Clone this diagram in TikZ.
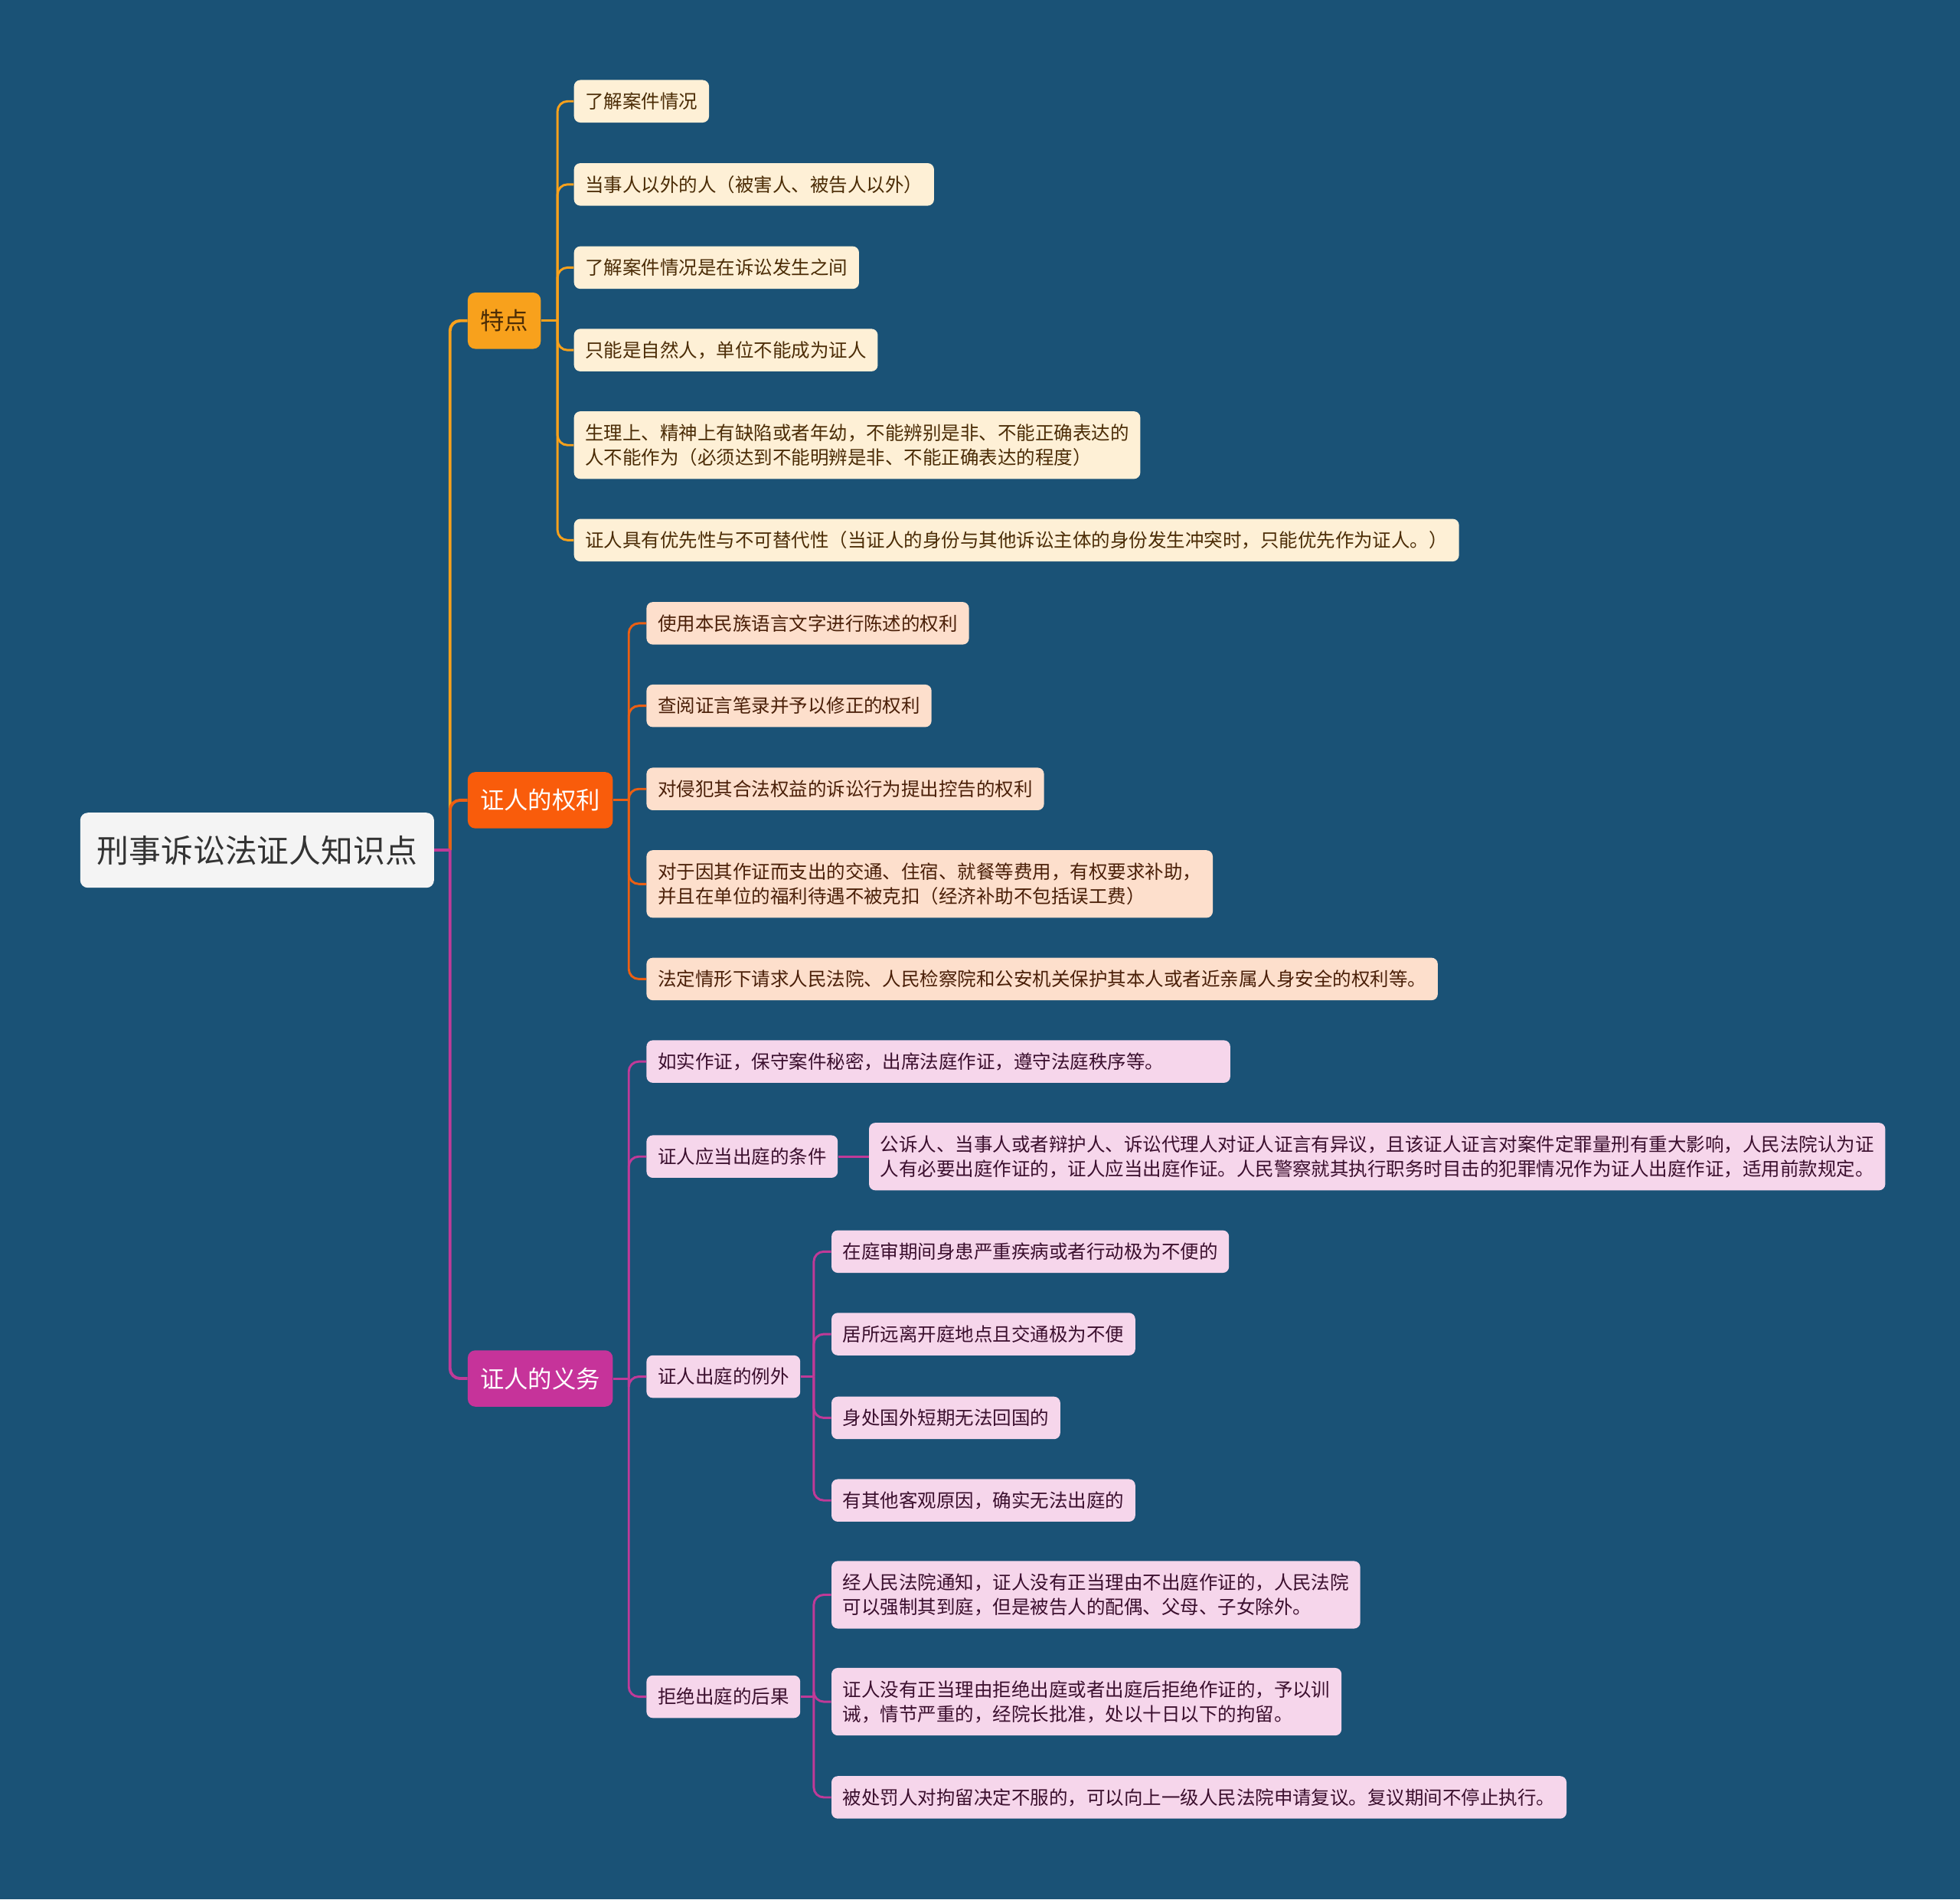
\documentclass[tikz,border=0pt]{standalone}
\usepackage{fontspec}
\setmainfont{Noto Sans CJK SC}
\definecolor{bgblue}{HTML}{1A5276}
\definecolor{tdorange}{HTML}{F8A11C}
\definecolor{qlred}{HTML}{F95C0B}
\definecolor{qlline}{HTML}{EC5F13}
\definecolor{ywmag}{HTML}{C6339A}
\definecolor{ywline}{HTML}{C03A98}
\definecolor{creamfill}{HTML}{FEF0D6}
\definecolor{creamtext}{HTML}{4B2C06}
\definecolor{peachfill}{HTML}{FDDFCC}
\definecolor{peachtext}{HTML}{4A1F08}
\definecolor{pinkfill}{HTML}{F6D6EB}
\definecolor{pinktext}{HTML}{3B0F2E}
\definecolor{rootfill}{HTML}{F4F4F4}
\definecolor{roottext}{HTML}{333333}

\begin{document}
\begin{tikzpicture}[x=1pt,y=-1pt,
  topicbox/.style={shape=rectangle, fill=rootfill, text=roottext, rounded corners=6pt, anchor=west,
    inner xsep=13.5pt, minimum height=60pt, font=\fontsize{25.6}{30}\selectfont},
  mainbox/.style={shape=rectangle, rounded corners=6pt, anchor=west, inner xsep=10pt,
    minimum height=45pt, font=\fontsize{19.2}{23}\selectfont},
  leaf/.style={shape=rectangle, rounded corners=5pt, anchor=west, inner xsep=9pt, inner ysep=8pt,
    minimum height=34pt, align=left, font=\fontsize{15}{19.5}\selectfont},
  tall/.style={minimum height=54pt},
  tdleaf/.style={leaf, fill=creamfill, text=creamtext},
  qlleaf/.style={leaf, fill=peachfill, text=peachtext},
  ywleaf/.style={leaf, fill=pinkfill, text=pinktext},
  trunk/.style={line width=2.4pt, rounded corners=8pt},
  twig/.style={line width=1.8pt, rounded corners=8pt}]

\fill[bgblue] (0,0) rectangle (1568,1519);

%%% root and main branches
\node[topicbox] (topic) at (64,680) {刑事诉讼法证人知识点};
\node[mainbox, fill=tdorange, text=creamtext] (tedian) at (374,256.5) {特点};
\node[mainbox, fill=qlred, text=white] (quanli) at (374,640) {证人的权利};
\node[mainbox, fill=ywmag, text=white] (yiwu) at (374,1102.5) {证人的义务};

%%% 特点
\node[tdleaf] (td1) at (459,81) {了解案件情况};
\node[tdleaf] (td2) at (459,147.5) {当事人以外的人（被害人、被告人以外）};
\node[tdleaf] (td3) at (459,214) {了解案件情况是在诉讼发生之间};
\node[tdleaf] (td4) at (459,280) {只能是自然人，单位不能成为证人};
\node[tdleaf, tall] (td5) at (459,356) {生理上、精神上有缺陷或者年幼，不能辨别是非、不能正确表达的\\人不能作为（必须达到不能明辨是非、不能正确表达的程度）};
\node[tdleaf] (td6) at (459,432) {证人具有优先性与不可替代性（当证人的身份与其他诉讼主体的身份发生冲突时，只能优先作为证人。）};

%%% 证人的权利
\node[qlleaf] (ql1) at (517,498.5) {使用本民族语言文字进行陈述的权利};
\node[qlleaf] (ql2) at (517,564.5) {查阅证言笔录并予以修正的权利};
\node[qlleaf] (ql3) at (517,631) {对侵犯其合法权益的诉讼行为提出控告的权利};
\node[qlleaf, tall] (ql4) at (517,707) {对于因其作证而支出的交通、住宿、就餐等费用，有权要求补助，\\并且在单位的福利待遇不被克扣（经济补助不包括误工费）};
\node[qlleaf] (ql5) at (517,783) {法定情形下请求人民法院、人民检察院和公安机关保护其本人或者近亲属人身安全的权利等。};

%%% 证人的义务
\node[ywleaf, text width=449pt] (yw1) at (517,849) {如实作证，保守案件秘密，出席法庭作证，遵守法庭秩序等。};
\node[ywleaf] (yw2) at (517,925) {证人应当出庭的条件};
\node[ywleaf, tall] (yw2a) at (695,925) {公诉人、当事人或者辩护人、诉讼代理人对证人证言有异议，且该证人证言对案件定罪量刑有重大影响，人民法院认为证\\人有必要出庭作证的，证人应当出庭作证。人民警察就其执行职务时目击的犯罪情况作为证人出庭作证，适用前款规定。};
\node[ywleaf] (yw3) at (517,1101) {证人出庭的例外};
\node[ywleaf] (yw4) at (517,1357) {拒绝出庭的后果};

\node[ywleaf] (lw1) at (665,1001) {在庭审期间身患严重疾病或者行动极为不便的};
\node[ywleaf] (lw2) at (665,1067) {居所远离开庭地点且交通极为不便};
\node[ywleaf] (lw3) at (665,1134) {身处国外短期无法回国的};
\node[ywleaf] (lw4) at (665,1200) {有其他客观原因，确实无法出庭的};

\node[ywleaf, tall] (hg1) at (665,1275.5) {经人民法院通知，证人没有正当理由不出庭作证的，人民法院\\可以强制其到庭，但是被告人的配偶、父母、子女除外。};
\node[ywleaf, tall] (hg2) at (665,1361) {证人没有正当理由拒绝出庭或者出庭后拒绝作证的，予以训\\诫，情节严重的，经院长批准，处以十日以下的拘留。};
\node[ywleaf] (hg3) at (665,1437.5) {被处罚人对拘留决定不服的，可以向上一级人民法院申请复议。复议期间不停止执行。};

%%% junctions
\coordinate (jtopic) at (360,680);
\coordinate (jtd) at (446,256.5);
\coordinate (jql) at (503,640);
\coordinate (jyw) at (503,1102.5);
\coordinate (jlw) at (651,1101);
\coordinate (jhg) at (651,1357);

%%% connectors
\draw[trunk, tdorange] (jtopic) |- (tedian.west);
\draw[trunk, qlline] (jtopic) |- (quanli.west);
\draw[trunk, ywline] (jtopic) |- (yiwu.west);
\draw[trunk, ywline] (topic.east) -- (jtopic);

\draw[twig, tdorange] (tedian.east) -- (jtd);
\foreach \c in {td1,td2,td3,td4,td5,td6}
  \draw[twig, tdorange] (jtd) |- (\c.west);

\draw[twig, qlline] (quanli.east) -- (jql);
\foreach \c in {ql1,ql2,ql3,ql4,ql5}
  \draw[twig, qlline] (jql) |- (\c.west);

\draw[twig, ywline] (yiwu.east) -- (jyw);
\foreach \c in {yw1,yw2,yw3,yw4}
  \draw[twig, ywline] (jyw) |- (\c.west);
\draw[twig, ywline] (yw2.east) -- (yw2a.west);

\draw[twig, ywline] (yw3.east) -- (jlw);
\foreach \c in {lw1,lw2,lw3,lw4}
  \draw[twig, ywline] (jlw) |- (\c.west);

\draw[twig, ywline] (yw4.east) -- (jhg);
\foreach \c in {hg1,hg2,hg3}
  \draw[twig, ywline] (jhg) |- (\c.west);

\end{tikzpicture}
\end{document}
